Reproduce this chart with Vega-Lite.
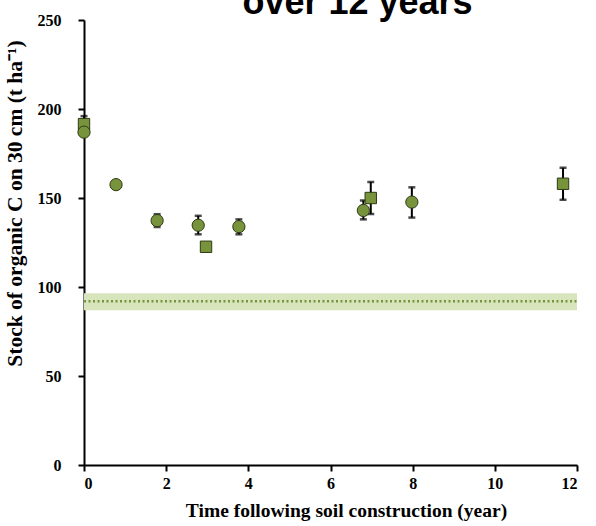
{
  "$schema": "https://vega.github.io/schema/vega-lite/v6.json",
  "autosize": "none",
  "width": 493,
  "height": 445,
  "padding": {"left": 84, "top": 20, "right": 19, "bottom": 61},
  "background": "white",
  "title": {
    "text": "over 12 years",
    "font": "Liberation Sans",
    "fontWeight": "bold",
    "fontSize": 36,
    "color": "black",
    "baseline": "alphabetic",
    "offset": 0,
    "dx": 27,
    "dy": 38
  },
  "config": {
    "view": {"stroke": null},
    "axis": {
      "grid": false,
      "domainColor": "black",
      "domainWidth": 2,
      "tickColor": "black",
      "tickWidth": 2,
      "tickSize": 6,
      "labelFont": "Liberation Serif",
      "labelFontWeight": "bold",
      "labelFontSize": 16,
      "labelColor": "black",
      "titleFont": "Liberation Serif",
      "titleFontWeight": "bold",
      "titleColor": "black"
    }
  },
  "datasets": {
    "band": [{"x0": 0, "x1": 12, "lo": 87, "hi": 96.5, "mid": 92}],
    "obs": [
      {"t": 0, "c": 191.5, "lo": 187, "hi": 196, "type": "square"},
      {"t": 0, "c": 187, "lo": 187, "hi": 187, "type": "circle"},
      {"t": 0.78, "c": 157.5, "lo": 157.5, "hi": 157.5, "type": "circle"},
      {"t": 1.78, "c": 137.3, "lo": 133.7, "hi": 140.9, "type": "circle"},
      {"t": 2.78, "c": 134.7, "lo": 129.6, "hi": 140, "type": "circle"},
      {"t": 2.97, "c": 122.6, "lo": 122.6, "hi": 122.6, "type": "square"},
      {"t": 3.77, "c": 133.9, "lo": 129.6, "hi": 138, "type": "circle"},
      {"t": 6.8, "c": 143, "lo": 138, "hi": 148.6, "type": "circle"},
      {"t": 6.98, "c": 150, "lo": 141, "hi": 159, "type": "square"},
      {"t": 7.98, "c": 147.7, "lo": 139, "hi": 156, "type": "circle"},
      {"t": 11.66, "c": 158, "lo": 149, "hi": 167, "type": "square"}
    ]
  },
  "layer": [
    {
      "data": {"name": "band"},
      "mark": {"type": "rect", "color": "#d8e4bc"},
      "encoding": {
        "x": {"field": "x0", "type": "quantitative", "scale": {"domain": [0, 12], "nice": false},
              "axis": {"values": [0, 2, 4, 6, 8, 10, 12], "title": "Time following soil construction (year)", "labelPadding": 4, "titleFontSize": 19.5, "titleX": 262, "titleY": 51, "titleBaseline": "alphabetic", "titleAlign": "center"}},
        "x2": {"field": "x1"},
        "y": {"field": "lo", "type": "quantitative", "scale": {"domain": [0, 250], "nice": false},
              "axis": {"values": [0, 50, 100, 150, 200, 250], "title": "Stock of organic C on 30 cm (t ha⁻¹)", "labelPadding": 17, "titleFontSize": 21.5, "titleX": -69, "titleY": 183, "titleBaseline": "middle", "titleAlign": "center"}},
        "y2": {"field": "hi"}
      }
    },
    {
      "data": {"name": "band"},
      "mark": {"type": "rule", "color": "#77933c", "strokeWidth": 2.5, "strokeDash": [2, 2.5]},
      "encoding": {
        "x": {"field": "x0", "type": "quantitative"},
        "x2": {"field": "x1"},
        "y": {"field": "mid", "type": "quantitative"}
      }
    },
    {
      "data": {"name": "obs"},
      "mark": {"type": "rule", "color": "black", "strokeWidth": 2},
      "encoding": {
        "x": {"field": "t", "type": "quantitative"},
        "y": {"field": "lo", "type": "quantitative"},
        "y2": {"field": "hi"}
      }
    },
    {
      "data": {"name": "obs"},
      "mark": {"type": "tick", "orient": "horizontal", "color": "black", "size": 7, "thickness": 2.5},
      "encoding": {
        "x": {"field": "t", "type": "quantitative"},
        "y": {"field": "lo", "type": "quantitative"}
      }
    },
    {
      "data": {"name": "obs"},
      "mark": {"type": "tick", "orient": "horizontal", "color": "black", "size": 7, "thickness": 2.5},
      "encoding": {
        "x": {"field": "t", "type": "quantitative"},
        "y": {"field": "hi", "type": "quantitative"}
      }
    },
    {
      "data": {"name": "obs"},
      "mark": {"type": "point", "filled": true, "fill": "#77933c", "stroke": "#2e3a14", "strokeWidth": 1, "opacity": 1, "fillOpacity": 1},
      "encoding": {
        "x": {"field": "t", "type": "quantitative"},
        "y": {"field": "c", "type": "quantitative"},
        "shape": {"field": "type", "type": "nominal", "scale": {"domain": ["circle", "square"], "range": ["circle", "square"]}, "legend": null},
        "size": {"field": "type", "type": "nominal", "scale": {"domain": ["circle", "square"], "range": [150, 130]}, "legend": null}
      }
    }
  ]
}
